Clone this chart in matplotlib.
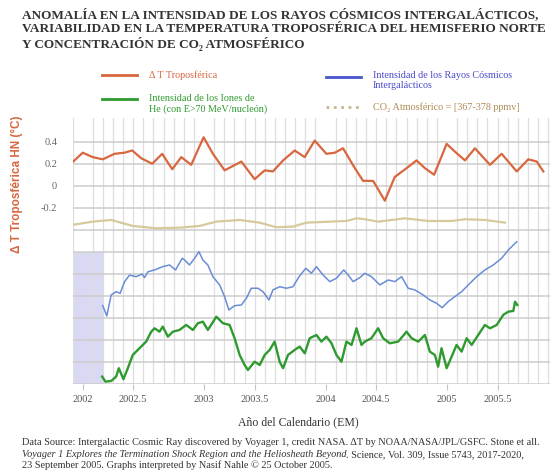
import numpy as np
import matplotlib.pyplot as plt
from matplotlib.lines import Line2D

# ---- data (decimal year, value in the plot's °C units) ----
temp_years = [2001.913, 2002.001, 2002.083, 2002.166, 2002.262, 2002.345, 2002.408, 2002.482,
              2002.573, 2002.655, 2002.738, 2002.812, 2002.894, 2002.996, 2003.073, 2003.169,
              2003.307, 2003.416, 2003.499, 2003.567, 2003.650, 2003.746, 2003.828, 2003.911,
              2004.007, 2004.076, 2004.144, 2004.241, 2004.309, 2004.392, 2004.488, 2004.570,
              2004.667, 2004.749, 2004.818, 2004.894, 2004.997, 2005.065, 2005.148, 2005.230,
              2005.354, 2005.450, 2005.574, 2005.669, 2005.739, 2005.793]
temp_vals = [0.21, 0.30, 0.26, 0.24, 0.29, 0.30, 0.32, 0.25,
             0.20, 0.29, 0.15, 0.26, 0.19, 0.44, 0.29, 0.14,
             0.22, 0.06, 0.14, 0.13, 0.23, 0.32, 0.26, 0.41,
             0.29, 0.30, 0.34, 0.16, 0.045, 0.044, -0.135, 0.08,
             0.16, 0.23, 0.16, 0.10, 0.38, 0.31, 0.23, 0.34,
             0.19, 0.29, 0.13, 0.24, 0.22, 0.13]

co2_years = [2001.913, 2002.083, 2002.235, 2002.413, 2002.606, 2002.798, 2002.963, 2003.101,
             2003.293, 2003.458, 2003.595, 2003.732, 2003.843, 2004.035, 2004.172, 2004.255,
             2004.323, 2004.433, 2004.653, 2004.845, 2005.038, 2005.148, 2005.313, 2005.478]
co2_vals = [-0.355, -0.325, -0.31, -0.364, -0.385, -0.38, -0.364, -0.325,
            -0.31, -0.334, -0.376, -0.37, -0.334, -0.325, -0.319, -0.295,
            -0.303, -0.325, -0.295, -0.319, -0.319, -0.303, -0.31, -0.334]

cr_years = [2002.166, 2002.199, 2002.235, 2002.276, 2002.309, 2002.345, 2002.386, 2002.441,
            2002.491, 2002.509, 2002.537, 2002.592, 2002.660, 2002.716, 2002.765, 2002.820,
            2002.839, 2002.880, 2002.922, 2002.957, 2002.990, 2003.031, 2003.073, 2003.128,
            2003.169, 2003.204, 2003.251, 2003.307, 2003.348, 2003.389, 2003.444, 2003.485,
            2003.534, 2003.567, 2003.622, 2003.678, 2003.732, 2003.782, 2003.837, 2003.884,
            2003.925, 2003.979, 2004.035, 2004.090, 2004.150, 2004.186, 2004.227, 2004.282,
            2004.323, 2004.378, 2004.447, 2004.515, 2004.570, 2004.626, 2004.680, 2004.735,
            2004.804, 2004.859, 2004.914, 2004.960, 2005.010, 2005.065, 2005.120, 2005.175,
            2005.244, 2005.312, 2005.381, 2005.450, 2005.505, 2005.574]
cr_vals = [-1.087, -1.18, -0.99, -0.96, -0.975, -0.87, -0.81, -0.824,
           -0.80, -0.833, -0.78, -0.763, -0.733, -0.718, -0.763, -0.657,
           -0.672, -0.718, -0.657, -0.597, -0.672, -0.718, -0.824, -0.899,
           -1.005, -1.126, -1.087, -1.081, -1.02, -0.929, -0.929, -0.96,
           -1.035, -0.944, -0.915, -0.929, -0.915, -0.824, -0.748, -0.793,
           -0.733, -0.808, -0.869, -0.838, -0.763, -0.808, -0.869, -0.833,
           -0.793, -0.824, -0.899, -0.854, -0.869, -0.824, -0.929, -0.944,
           -0.99, -1.035, -1.065, -1.105, -1.05, -1.005, -0.96, -0.899,
           -0.824, -0.763, -0.718, -0.657, -0.582, -0.507]

he_years = [2002.161, 2002.188, 2002.235, 2002.276, 2002.298, 2002.336, 2002.372, 2002.413,
            2002.468, 2002.523, 2002.565, 2002.592, 2002.633, 2002.660, 2002.702, 2002.743,
            2002.798, 2002.853, 2002.908, 2002.949, 2002.990, 2003.031, 2003.101, 2003.155,
            2003.210, 2003.251, 2003.293, 2003.334, 2003.361, 2003.416, 2003.458, 2003.499,
            2003.540, 2003.581, 2003.622, 2003.650, 2003.691, 2003.746, 2003.787, 2003.829,
            2003.870, 2003.925, 2003.966, 2004.007, 2004.049, 2004.090, 2004.131, 2004.172,
            2004.214, 2004.255, 2004.296, 2004.323, 2004.378, 2004.433, 2004.474, 2004.529,
            2004.598, 2004.667, 2004.708, 2004.763, 2004.818, 2004.859, 2004.900, 2004.927,
            2004.955, 2004.997, 2005.038, 2005.079, 2005.120, 2005.162, 2005.203, 2005.257,
            2005.312, 2005.354, 2005.409, 2005.463, 2005.505, 2005.546, 2005.560, 2005.579]
he_vals = [-1.73, -1.776, -1.77, -1.73, -1.654, -1.754, -1.654, -1.534,
           -1.473, -1.413, -1.323, -1.292, -1.323, -1.277, -1.368, -1.323,
           -1.307, -1.262, -1.307, -1.246, -1.232, -1.307, -1.187, -1.246,
           -1.262, -1.382, -1.534, -1.625, -1.67, -1.595, -1.625, -1.534,
           -1.488, -1.413, -1.595, -1.654, -1.534, -1.488, -1.458, -1.519,
           -1.382, -1.353, -1.413, -1.368, -1.428, -1.534, -1.595, -1.413,
           -1.443, -1.292, -1.443, -1.413, -1.382, -1.292, -1.382, -1.428,
           -1.413, -1.323, -1.382, -1.413, -1.353, -1.504, -1.534, -1.64,
           -1.473, -1.654, -1.549, -1.443, -1.504, -1.382, -1.443, -1.353,
           -1.262, -1.292, -1.262, -1.171, -1.141, -1.135, -1.051, -1.081]

tick_pos = [2002.0, 2002.413, 2003.0, 2003.416, 2004.0, 2004.414, 2005.0, 2005.416]
tick_labels = ["2002", "2002.5", "2003", "2003.5", "2004", "2004.5", "2005", "2005.5"]
ygrid_vals = [0.4, 0.2, 0.0, -0.2, -0.4, -0.6, -0.8, -1.0, -1.2, -1.4, -1.6, -1.8]
ytick_labels = ["0.4", "0.2", "0", "-0.2"] + [""] * 8

RED = "#d8673f"
BLUE = "#6a8cd6"
GREEN = "#2f9a2f"
TAN = "#d6c99c"
SERIF = "Liberation Serif"

fig = plt.figure(figsize=(5.5, 4.71), dpi=100)
fig.patch.set_facecolor("white")
ax = fig.add_axes([72.5 / 550, 1 - 384.3 / 471, 1 - 72.5 / 550, (384.3 - 118.3) / 471])

# shaded band at the start of the cosmic ray record
ax.axvspan(2001.917, 2002.166, ymin=0, ymax=(1.8 - 0.597) / 2.412,
           color="#d9d9f3", zorder=0.4, lw=0)

ax.plot(temp_years, temp_vals, color=RED, lw=1.6, zorder=3)
ax.plot(co2_years, co2_vals, color=TAN, lw=1.6, zorder=3)
ax.plot(cr_years, cr_vals, color=BLUE, lw=1.1, zorder=3)
ax.plot(he_years, he_vals, color=GREEN, lw=1.7, zorder=3)

ax.set_xlim(2001.917, 2005.848)
ax.set_ylim(-1.8, 0.612)

# monthly vertical grid, horizontal grid every 0.2
ax.set_xticks(2001 + np.arange(11, 59) / 12, minor=True)
ax.set_xticks(tick_pos, tick_labels)
ax.set_yticks(ygrid_vals, ytick_labels)
ax.set_axisbelow(True)
ax.grid(which="minor", axis="x", color="#dedede", lw=0.9)
ax.grid(which="major", axis="y", color="#cdcdcd", lw=1.1)
ax.tick_params(which="minor", length=0)
ax.tick_params(axis="x", which="major", length=4, color="#c4c4c4", pad=4,
               labelsize=7.5, labelcolor="#555555")
ax.tick_params(axis="y", length=0, pad=11, labelsize=7.5, labelcolor="#666666")
for lab in ax.get_xticklabels() + ax.get_yticklabels():
    lab.set_family(SERIF)
for s in ax.spines.values():
    s.set_visible(False)

# y axis label
fig.text(17 / 550, 1 - 184 / 471, "Δ T Troposférica HN (°C)", rotation=90,
         ha="center", va="center", color=RED, fontsize=8.5, fontweight="bold",
         family="Liberation Sans")

# title
fig.text(22 / 550, 1 - 8 / 471,
         "ANOMALÍA EN LA INTENSIDAD DE LOS RAYOS CÓSMICOS INTERGALÁCTICOS,\n"
         "VARIABILIDAD EN LA TEMPERATURA TROPOSFÉRICA DEL HEMISFERIO NORTE\n"
         "Y CONCENTRACIÓN DE CO₂ ATMOSFÉRICO",
         ha="left", va="top", fontsize=9.5, fontweight="bold", family=SERIF,
         color="#333333", linespacing=1.2)

# legend (drawn by hand to keep the reference layout)
def legend_entry(x0, y_line, text, y_text, color, text_color, ls="-"):
    fig.add_artist(Line2D([x0 / 550, (x0 + 35) / 550], [1 - y_line / 471] * 2,
                          color=color, lw=2, ls=ls, transform=fig.transFigure))
    fig.text((x0 + 47) / 550, 1 - y_text / 471, text, ha="left", va="center",
             fontsize=7.3, family=SERIF, color=text_color, linespacing=1.1)

legend_entry(102, 75.4, "Δ T Troposférica", 75.4, RED, RED)
legend_entry(102, 98.9, "Intensidad de los Iones de\nHe (con E>70 MeV/nucleón)", 104, GREEN, GREEN)
legend_entry(326, 76.8, "Intensidad de los Rayos Cósmicos\nIntergalácticos", 80.5, "#4a55cc", "#4a4acc")
legend_entry(326, 107, "CO₂ Atmosférico = [367-378 ppmv]", 107, "#c8b98c", "#b08a55", ls=":")

# x label and source note
fig.text(298 / 550, 1 - 422 / 471, "Año del Calendario (EM)", ha="center", va="center",
         fontsize=8.5, family=SERIF, color="#333333")

note_kw = dict(fontsize=7.4, family=SERIF, color="#333333", ha="left")
fig.text(22 / 550, 1 - 445 / 471,
         "Data Source: Intergalactic Cosmic Ray discovered by Voyager 1, credit NASA. "
         "ΔT by NOAA/NASA/JPL/GSFC. Stone et all.", va="baseline", **note_kw)
t_it = fig.text(22 / 550, 1 - 457 / 471,
                "Voyager 1 Explores the Termination Shock Region and the Heliosheath Beyond",
                style="italic", va="baseline", **note_kw)
ax.annotate(". Science, Vol. 309, Issue 5743, 2017-2020,", xy=(1, 0), xycoords=t_it,
            va="bottom", annotation_clip=False, **note_kw)
fig.text(22 / 550, 1 - 468 / 471,
         "23 September 2005. Graphs interpreted by Nasif Nahle © 25 October 2005.",
         va="baseline", **note_kw)

fig.savefig("out.png", dpi=100)
